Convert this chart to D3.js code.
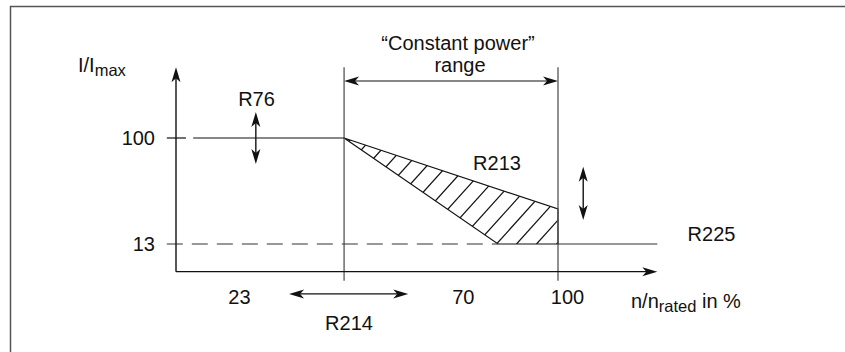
<!DOCTYPE html>
<html><head><meta charset="utf-8">
<script src="https://cdn.jsdelivr.net/npm/d3@7"></script>
<style>
html,body{margin:0;padding:0;background:#fff;}
svg text{font-family:"Liberation Sans",Arial,Helvetica,sans-serif;fill:#111;}
</style></head>
<body><svg id="c" width="845" height="352"></svg>
<script>
// ---- data (x in % of rated speed, y in % of I/Imax) ----
const yLevels = [100, 13];                 // current limit levels
const yLevelLabels = ["100", "13"];
const xTickLabels = ["23", "70", "100"];
const xTickAt = [16.6, 75.2, 102.5];       // where the x labels sit (data units)
const cpStart = 44, cpEnd = 100;           // constant power range bounds
const upperCurve = [[44, 100], [100, 41.7]];   // upper limit (R213)
const lowerCurve = [[44, 100], [84.3, 13]];    // lower limit
const xAxisMax = 126, yAxisMax = 158, axisY = -9.7;

const svg = d3.select("#c");
const x = d3.scaleLinear().domain([0, 100]).range([176, 558]);
const y = d3.scaleLinear().domain([13, 100]).range([244, 138]);

// frame
svg.append("rect").attr("x", 10.5).attr("y", 6.5).attr("width", 900).attr("height", 400)
  .attr("fill", "none").attr("stroke", "#555").attr("stroke-width", 1.5);

function arrowHead(px, py, angleDeg) {
  svg.append("path")
    .attr("d", "M0,0 L-15,-4.5 L-11,0 L-15,4.5 Z")
    .attr("transform", `translate(${px},${py}) rotate(${angleDeg})`)
    .attr("fill", "#111");
}
function line(x1, y1, x2, y2, opts = {}) {
  return svg.append("line").attr("x1", x1).attr("y1", y1).attr("x2", x2).attr("y2", y2)
    .attr("stroke", opts.color || "#111").attr("stroke-width", opts.w || 1.2)
    .attr("stroke-dasharray", opts.dash || null);
}

// hatched region
const poly = [upperCurve[0], upperCurve[1], [cpEnd, 13], lowerCurve[1]];
const polyPx = poly.map(p => [x(p[0]), y(p[1])]);
svg.append("clipPath").attr("id", "hclip").append("polygon")
  .attr("points", polyPx.map(p => p.join(",")).join(" "));
const hg = svg.append("g").attr("clip-path", "url(#hclip)");
const yb = y(13), yt = y(100);
for (let cx = x(lowerCurve[1][0]) - 1.5 - 20 * 12; cx < x(cpEnd) + 20; cx += 20) {
  hg.append("line").attr("x1", cx).attr("y1", yb).attr("x2", cx + (yb - yt) * 0.9).attr("y2", yt)
    .attr("stroke", "#111").attr("stroke-width", 1.2);
}
svg.append("polygon").attr("points", polyPx.map(p => p.join(",")).join(" "))
  .attr("fill", "none").attr("stroke", "#111").attr("stroke-width", 1.2);

// vertical guide lines of the constant power range
[cpStart, cpEnd].forEach(v => line(x(v), y(yAxisMax), x(v), y(axisY) + 9, {color: "#555", w: 1.3}));

// 100 level: tick + solid line
line(x(-2.4), y(yLevels[0]), x(2.6), y(yLevels[0]));
line(x(4.5), y(yLevels[0]), x(cpStart), y(yLevels[0]));
// 13 level: dashed to curve, solid after range
line(x(-2.4), y(yLevels[1]), x(lowerCurve[1][0]), y(yLevels[1]), {dash: "16,9", color: "#333"});
line(x(cpEnd), y(yLevels[1]), x(xAxisMax), y(yLevels[1]), {color: "#333"});

// axes
line(x(0), y(yAxisMax) + 6, x(0), y(axisY), {w: 1.4});
line(x(0), y(axisY), x(xAxisMax) - 6, y(axisY), {w: 1.4});
arrowHead(x(0), y(yAxisMax), -90);
arrowHead(x(xAxisMax), y(axisY), 0);

// double arrows
function dblArrowH(xa, xb, yy) {
  line(x(xa) + 6, y(yy), x(xb) - 6, y(yy), {w: 1.2});
  arrowHead(x(xa), y(yy), 180); arrowHead(x(xb), y(yy), 0);
}
function dblArrowV(xx, ya, yb2) {
  line(x(xx), y(ya) + 6, x(xx), y(yb2) - 6, {w: 1.4});
  arrowHead(x(xx), y(ya), -90); arrowHead(x(xx), y(yb2), 90);
}
dblArrowH(cpStart, cpEnd, 146.8);     // constant power range
dblArrowH(29.6, 60.8, -28);            // R214
dblArrowV(20.9, 121.3, 78.7);          // R76
dblArrowV(106.6, 76.4, 32.7);          // R213

// texts
function txt(s, px, py, anchor = "middle", size = 20) {
  return svg.append("text").attr("x", px).attr("y", py).attr("text-anchor", anchor)
    .attr("font-size", size).text(s);
}
yLevels.forEach((v, i) => txt(yLevelLabels[i], 155, y(v) + 7, "end"));
xTickLabels.forEach((s, i) => txt(s, x(xTickAt[i]), 304));

const yl = svg.append("text").attr("x", 78).attr("y", 72).attr("font-size", 20);
yl.append("tspan").text("I/I");
yl.append("tspan").attr("font-size", 16.5).attr("dy", 4).text("max");

const xl = svg.append("text").attr("x", 631).attr("y", 308).attr("font-size", 20);
xl.append("tspan").text("n/n");
xl.append("tspan").attr("font-size", 16.5).attr("dy", 4).text("rated");
xl.append("tspan").attr("dy", -4).text(" in %");

txt("\u201CConstant power\u201D", 458, 50);
txt("range", 460, 72);
txt("R76", 256.5, 105.5);
txt("R213", 497, 170);
txt("R225", 711.5, 241);
txt("R214", 349, 330);
</script></body></html>
